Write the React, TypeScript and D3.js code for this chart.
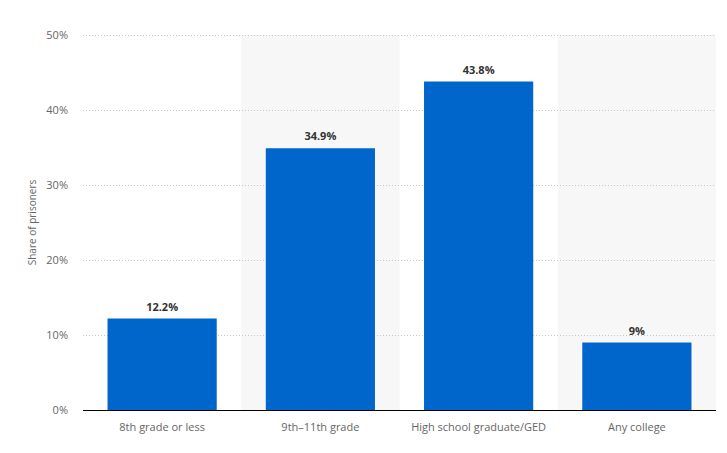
import React from "react";
import * as d3 from "d3";

const categories = ["8th grade or less", "9th–11th grade", "High school graduate/GED", "Any college"];
const values = [12.2, 34.9, 43.8, 9];
const valueLabels = ["12.2%", "34.9%", "43.8%", "9%"];
const yTicks = [0, 10, 20, 30, 40, 50];

const W = 727;
const H = 453;
const M = { left: 83, right: 11, top: 35, bottom: 43 };
const FONT = "'Open Sans', Arial, sans-serif";

export default function App() {
  const x = d3
    .scaleBand<string>()
    .domain(categories)
    .range([M.left, W - M.right])
    .paddingInner(0)
    .paddingOuter(0);
  const y = d3.scaleLinear().domain([0, 50]).range([H - M.bottom, M.top]);
  const bw = x.bandwidth();
  const barW = bw * 0.69;

  return (
    <svg
      width={W}
      height={H}
      style={{ position: "absolute", left: 0, top: 0, background: "#fff" }}
      fontFamily={FONT}
    >
      {categories.map((c, i) =>
        i % 2 === 1 ? (
          <rect key={"band" + c} x={x(c)} y={M.top} width={bw} height={y(0) - M.top} fill="#f7f7f7" />
        ) : null
      )}
      {yTicks.map((t) =>
        t === 0 ? null : (
          <line
            key={"g" + t}
            x1={M.left}
            x2={W - M.right}
            y1={Math.round(y(t)) + 0.5}
            y2={Math.round(y(t)) + 0.5}
            stroke="#c8c8c8"
            strokeWidth={1}
            strokeDasharray="1,2"
          />
        )
      )}
      {yTicks.map((t) => (
        <text key={"yt" + t} x={68} y={y(t) + 4} textAnchor="end" fontSize={11} fill="#666">
          {t + "%"}
        </text>
      ))}
      <text
        transform={`translate(36,${(y(0) + y(50)) / 2}) rotate(-90)`}
        textAnchor="middle"
        fontSize={10}
        fill="#666"
      >
        Share of prisoners
      </text>
      {categories.map((c, i) => {
        const cx = (x(c) as number) + bw / 2;
        return (
          <g key={"b" + c}>
            <rect x={cx - barW / 2} y={y(values[i])} width={barW} height={y(0) - y(values[i])} fill="#0066cc" />
            <text x={cx} y={y(values[i]) - 8} textAnchor="middle" fontSize={11} fontWeight="bold" fill="#333">
              {valueLabels[i]}
            </text>
            <text x={cx} y={y(0) + 21} textAnchor="middle" fontSize={11} fill="#666">
              {c}
            </text>
          </g>
        );
      })}
      <line x1={M.left} x2={W - M.right} y1={y(0) + 0.5} y2={y(0) + 0.5} stroke="#000" strokeWidth={1} />
    </svg>
  );
}
